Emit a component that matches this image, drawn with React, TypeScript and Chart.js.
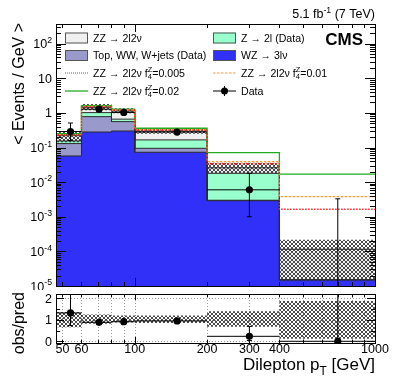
import React, { useEffect, useRef } from 'react';
import { Chart, registerables } from 'chart.js';
Chart.register(...registerables);

// ---------------- data ----------------
const binEdges = [47, 60, 80, 100, 200, 400, 1000];
const binCenters = [54, 71, 90, 150, 300, 700];
const wzValues = [0.057, 0.28, 0.30, 0.073, 0.0029, 0.000015];
const topWWValues = [0.073, 0.50, 0.26, 0.022, 0.0001, 0];
const zjetsValues = [0.025, 0.24, 0.10, 0.071, 0.015, 0];
const zzValues = [0.065, 0.43, 0.47, 0.13, 0.008, 0.0001];
const atgc005Values = [0.23, 1.5, 1.2, 0.32, 0.034, 0.00165];
const atgc01Values = [0.235, 1.55, 1.23, 0.33, 0.039, 0.0038];
const atgc02Values = [0.25, 1.62, 1.28, 0.36, 0.071, 0.017];
const dataValues = [0.29, 1.28, 1.03, 0.28, 0.006, 0];
const dataErrLow = [0.13, 0.12, 0.11, 0.03, 0.005, 0];
const dataErrHigh = [0.22, 0.13, 0.12, 0.03, 0.012, 0.0033];
const uncLow = [0.65, 0.82, 0.87, 0.85, 0.68, 0.12];
const uncHigh = [1.36, 1.25, 1.2, 1.2, 1.4, 1.88];
const xTickLabels = [50, 60, 100, 200, 300, 400, 1000];
const yExponents = [-5, -4, -3, -2, -1, 0, 1, 2];
const ratioTickLabels = [0, 1, 2];

const FONT = "'Liberation Sans', Arial, Helvetica, sans-serif";
const COL_ZZ = '#f0f0f0';
const COL_TOP = '#9999cc';
const COL_Z = '#99ffcc';
const COL_WZ = '#3030f8';
const COL_RED = '#ff2020';
const COL_ORANGE = '#ff9933';
const COL_GREEN = '#22aa22';

type Part = { t: string; k?: 'sup' | 'sub' | 'ss'; t2?: string };

function measureParts(ctx: CanvasRenderingContext2D, parts: Part[], size: number) {
  let w = 0;
  for (const p of parts) {
    if (p.k) {
      ctx.font = `${size * 0.7}px ${FONT}`;
      w += p.k === 'ss' ? Math.max(ctx.measureText(p.t).width, ctx.measureText(p.t2 || '').width) : ctx.measureText(p.t).width;
    } else {
      ctx.font = `${size}px ${FONT}`;
      w += ctx.measureText(p.t).width;
    }
  }
  return w;
}

function drawParts(ctx: CanvasRenderingContext2D, parts: Part[], x: number, y: number, size: number, align: 'left' | 'right' | 'center' = 'left', weight = '') {
  const w = measureParts(ctx, parts, size);
  let cx = align === 'right' ? x - w : align === 'center' ? x - w / 2 : x;
  ctx.textAlign = 'left';
  ctx.textBaseline = 'alphabetic';
  for (const p of parts) {
    if (p.k) {
      ctx.font = `${weight}${size * 0.7}px ${FONT}`;
      if (p.k === 'ss') {
        ctx.fillText(p.t, cx, y - size * 0.42);
        ctx.fillText(p.t2 || '', cx, y + size * 0.22);
        cx += Math.max(ctx.measureText(p.t).width, ctx.measureText(p.t2 || '').width);
      } else if (p.k === 'sup') {
        ctx.fillText(p.t, cx, y - size * 0.42);
        cx += ctx.measureText(p.t).width;
      } else {
        ctx.fillText(p.t, cx, y + size * 0.3);
        cx += ctx.measureText(p.t).width;
      }
    } else {
      ctx.font = `${weight}${size}px ${FONT}`;
      ctx.fillText(p.t, cx, y);
      cx += ctx.measureText(p.t).width;
    }
  }
}

function stepPoints(values: number[]) {
  const pts: { x: number; y: number }[] = [];
  values.forEach((v, i) => {
    pts.push({ x: binEdges[i], y: v });
    pts.push({ x: binEdges[i + 1], y: v });
  });
  return pts;
}

function line(ctx: CanvasRenderingContext2D, x1: number, y1: number, x2: number, y2: number) {
  ctx.beginPath();
  ctx.moveTo(x1, y1);
  ctx.lineTo(x2, y2);
  ctx.stroke();
}

function drawLogXTicks(ctx: CanvasRenderingContext2D, xs: any, area: any, majorLen: number, minorLen: number) {
  for (let d = 10; d <= 1000; d *= 10) {
    for (let m = 1; m <= 9; m++) {
      const v = m * d;
      if (v < xs.min || v > xs.max) continue;
      const px = Math.round(xs.getPixelForValue(v)) + 0.5;
      const len = m === 1 ? majorLen : minorLen;
      line(ctx, px, area.bottom, px, area.bottom - len);
      line(ctx, px, area.top, px, area.top + len);
    }
  }
}

function makeHatch(ctx: CanvasRenderingContext2D) {
  const c = document.createElement('canvas');
  c.width = 4;
  c.height = 4;
  const g = c.getContext('2d') as CanvasRenderingContext2D;
  g.fillStyle = 'rgba(45,45,45,0.85)';
  for (let i = 0; i < 4; i++) {
    g.fillRect(i, i, 1, 1);
    g.fillRect(i, 3 - i, 1, 1);
  }
  return ctx.createPattern(c, 'repeat') as CanvasPattern;
}

export default function App() {
  const mainRef = useRef<HTMLCanvasElement>(null);
  const ratioRef = useRef<HTMLCanvasElement>(null);

  useEffect(() => {
    document.body.style.margin = '0';
    const mainCanvas = mainRef.current as HTMLCanvasElement;
    const ratioCanvas = ratioRef.current as HTMLCanvasElement;
    const hatch1 = makeHatch(mainCanvas.getContext('2d') as CanvasRenderingContext2D);
    const hatch2 = makeHatch(ratioCanvas.getContext('2d') as CanvasRenderingContext2D);

    const cumWZ = wzValues.slice();
    const cumTop = wzValues.map((v, i) => v + topWWValues[i]);
    const cumZ = cumTop.map((v, i) => v + zjetsValues[i]);
    const total = cumZ.map((v, i) => v + zzValues[i]);
    const bandHi = total.map((v, i) => v * uncHigh[i]);
    const bandLo = total.map((v, i) => v * uncLow[i]);
    const ratio = dataValues.map((v, i) => v / total[i]);
    const ratioLo = dataErrLow.map((v, i) => v / total[i]);
    const ratioHi = dataErrHigh.map((v, i) => v / total[i]);

    const stackDs = (vals: number[], bg: string, order: number) => ({
      type: 'line' as const,
      data: stepPoints(vals),
      fill: 'start',
      backgroundColor: bg,
      borderColor: '#2a2a2a',
      borderWidth: 1,
      pointRadius: 0,
      order,
    });
    const sigDs = (vals: number[], color: string, dash: number[], width: number, order: number) => ({
      type: 'line' as const,
      data: [{ x: binEdges[0], y: 1e-7 }, ...stepPoints(vals)],
      fill: false,
      borderColor: color,
      borderDash: dash,
      borderWidth: width,
      pointRadius: 0,
      order,
    });

    const errorBars = (chart: any, vals: number[], lo: number[], hi: number[], isLog: boolean) => {
      const ctx = chart.ctx as CanvasRenderingContext2D;
      const xs = chart.scales.x;
      const ys = chart.scales.y;
      const a = chart.chartArea;
      ctx.save();
      ctx.beginPath();
      ctx.rect(a.left, a.top, a.right - a.left, a.bottom - a.top);
      ctx.clip();
      ctx.strokeStyle = '#000';
      ctx.lineWidth = 1;
      vals.forEach((v, i) => {
        const px = xs.getPixelForValue(binCenters[i]);
        const yv = isLog && v <= 0 ? a.bottom : ys.getPixelForValue(v);
        const lowV = v - lo[i];
        const yl = isLog && lowV <= 0 ? a.bottom : ys.getPixelForValue(lowV);
        const yh = ys.getPixelForValue(v + hi[i]);
        line(ctx, px, yl, px, yh);
        line(ctx, px - 2.5, yh, px + 2.5, yh);
        if (yl < a.bottom - 1) line(ctx, px - 2.5, yl, px + 2.5, yl);
        if (!(isLog && v <= 0)) line(ctx, xs.getPixelForValue(binEdges[i]), yv, xs.getPixelForValue(binEdges[i + 1]), yv);
      });
      ctx.restore();
    };

    const mainDeco = {
      id: 'mainDeco',
      afterDatasetsDraw(chart: any) {
        const ctx = chart.ctx as CanvasRenderingContext2D;
        const a = chart.chartArea;
        const xs = chart.scales.x;
        const ys = chart.scales.y;
        errorBars(chart, dataValues, dataErrLow, dataErrHigh, true);
        ctx.save();
        ctx.strokeStyle = '#000';
        ctx.lineWidth = 1;
        ctx.strokeRect(Math.round(a.left) + 0.5, Math.round(a.top) + 0.5, Math.round(a.right - a.left), Math.round(a.bottom - a.top));
        drawLogXTicks(ctx, xs, a, 8, 4);
        ctx.fillStyle = '#000';
        yExponents.forEach((e) => {
          for (let m = 1; m <= 9; m++) {
            const v = m * Math.pow(10, e);
            if (v < ys.min * 0.999 || v > ys.max * 1.001) continue;
            const py = Math.round(ys.getPixelForValue(v)) + 0.5;
            const len = m === 1 ? 10 : 5;
            line(ctx, a.left, py, a.left + len, py);
            line(ctx, a.right, py, a.right - len, py);
          }
          const py = ys.getPixelForValue(Math.pow(10, e));
          const parts: Part[] = e === 0 ? [{ t: '1' }] : e === 1 ? [{ t: '10' }] : [{ t: '10' }, { t: String(e), k: 'sup' }];
          drawParts(ctx, parts, 52, py + 4.5, 12.5, 'right');
        });
        ctx.save();
        ctx.translate(24, 23);
        ctx.rotate(-Math.PI / 2);
        ctx.font = `16px ${FONT}`;
        ctx.textAlign = 'right';
        ctx.textBaseline = 'alphabetic';
        ctx.fillText('< Events / GeV >', 0, 0);
        ctx.restore();
        drawParts(ctx, [{ t: '5.1 fb' }, { t: '-1', k: 'sup' }, { t: ' (7 TeV)' }], 375, 18, 12.5, 'right');
        ctx.font = `bold 17px ${FONT}`;
        ctx.textAlign = 'right';
        ctx.fillText('CMS', 363, 45);
        // legend
        const fs = 10.6;
        const rows = [38, 55.5, 73, 91];
        const lx0 = 65, lx1 = 88, ltx = 93;
        const rx0 = 213, rx1 = 236, rtx = 241;
        const box = (x0: number, x1: number, yc: number, fill: string) => {
          ctx.fillStyle = fill;
          ctx.fillRect(x0, yc - 5.5, x1 - x0, 11);
          ctx.strokeStyle = '#555';
          ctx.lineWidth = 1;
          ctx.strokeRect(x0 + 0.5, yc - 5.5 + 0.5, x1 - x0 - 1, 10);
        };
        const sample = (x0: number, x1: number, yc: number, color: string, dash: number[], w: number) => {
          ctx.save();
          ctx.strokeStyle = color;
          ctx.lineWidth = w;
          ctx.setLineDash(dash);
          line(ctx, x0, yc, x1, yc);
          ctx.restore();
        };
        const f4 = (val: string): Part[] => [{ t: 'ZZ → 2l2ν f' }, { t: 'Z', t2: '4', k: 'ss' }, { t: '=' + val }];
        box(lx0, lx1, rows[0], COL_ZZ);
        box(lx0, lx1, rows[1], COL_TOP);
        sample(lx0, lx1, rows[2], COL_RED, [1, 1], 1);
        sample(lx0, lx1, rows[3], COL_GREEN, [], 1.3);
        box(rx0, rx1, rows[0], COL_Z);
        box(rx0, rx1, rows[1], COL_WZ);
        sample(rx0, rx1, rows[2], COL_ORANGE, [2.5, 1.5], 1);
        ctx.strokeStyle = '#000';
        ctx.lineWidth = 1;
        line(ctx, rx0, rows[3], rx1, rows[3]);
        line(ctx, (rx0 + rx1) / 2, rows[3] - 5, (rx0 + rx1) / 2, rows[3] + 5);
        ctx.fillStyle = '#000';
        ctx.beginPath();
        ctx.arc((rx0 + rx1) / 2, rows[3], 3.5, 0, Math.PI * 2);
        ctx.fill();
        const bl = (r: number) => rows[r] + fs * 0.36;
        ctx.fillStyle = '#000';
        drawParts(ctx, [{ t: 'ZZ → 2l2ν' }], ltx, bl(0), fs);
        drawParts(ctx, [{ t: 'Top, WW, W+jets (Data)' }], ltx, bl(1), fs);
        drawParts(ctx, f4('0.005'), ltx, bl(2), fs);
        drawParts(ctx, f4('0.02'), ltx, bl(3), fs);
        drawParts(ctx, [{ t: 'Z → 2l (Data)' }], rtx, bl(0), fs);
        drawParts(ctx, [{ t: 'WZ → 3lν' }], rtx, bl(1), fs);
        drawParts(ctx, f4('0.01'), rtx, bl(2), fs);
        drawParts(ctx, [{ t: 'Data' }], rtx, bl(3), fs);
        ctx.restore();
      },
    };

    const c1 = new Chart(mainCanvas, {
      type: 'line',
      data: {
        datasets: [
          stackDs(total, COL_ZZ, 10),
          stackDs(cumZ, COL_Z, 9),
          stackDs(cumTop, COL_TOP, 8),
          stackDs(cumWZ, COL_WZ, 7),
          { type: 'line', data: stepPoints(bandHi), fill: '+1', backgroundColor: hatch1, borderColor: 'rgba(0,0,0,0)', borderWidth: 0, pointRadius: 0, order: 6 },
          { type: 'line', data: stepPoints(bandLo), fill: false, borderColor: 'rgba(0,0,0,0)', borderWidth: 0, pointRadius: 0, order: 6 },
          sigDs(atgc02Values, COL_GREEN, [], 1.3, 4),
          sigDs(atgc01Values, COL_ORANGE, [2.5, 1.5], 1.2, 3),
          sigDs(atgc005Values, COL_RED, [1.5, 1.5], 1.3, 2),
          {
            type: 'line',
            data: binCenters.map((x, i) => ({ x, y: dataValues[i] > 0 ? dataValues[i] : null })),
            showLine: false,
            pointRadius: 3.6,
            pointBackgroundColor: '#000',
            pointBorderColor: '#000',
            pointBorderWidth: 0,
            order: 0,
          },
        ] as any,
      },
      options: {
        animation: false,
        responsive: false,
        events: [],
        layout: { padding: { left: 56, right: 24, top: 24, bottom: 4 } },
        scales: {
          x: { type: 'logarithmic', min: binEdges[0], max: binEdges[binEdges.length - 1], display: false },
          y: { type: 'logarithmic', min: 1e-5, max: 370, display: false },
        },
        plugins: { legend: { display: false }, tooltip: { enabled: false } },
      } as any,
      plugins: [mainDeco],
    });

    const ratioDeco = {
      id: 'ratioDeco',
      beforeDatasetsDraw(chart: any) {
        const ctx = chart.ctx as CanvasRenderingContext2D;
        const a = chart.chartArea;
        const xs = chart.scales.x;
        const ys = chart.scales.y;
        ctx.save();
        ctx.strokeStyle = '#999';
        ctx.lineWidth = 1;
        ctx.setLineDash([1, 2]);
        for (let d = 10; d <= 1000; d *= 10) {
          for (let m = 1; m <= 9; m++) {
            const v = m * d;
            if (v <= xs.min || v >= xs.max) continue;
            const px = Math.round(xs.getPixelForValue(v)) + 0.5;
            line(ctx, px, a.top, px, a.bottom);
          }
        }
        ratioTickLabels.forEach((r) => {
          const py = Math.round(ys.getPixelForValue(r)) + 0.5;
          line(ctx, a.left, py, a.right, py);
        });
        ctx.restore();
      },
      afterDatasetsDraw(chart: any) {
        const ctx = chart.ctx as CanvasRenderingContext2D;
        const a = chart.chartArea;
        const xs = chart.scales.x;
        const ys = chart.scales.y;
        errorBars(chart, ratio, ratioLo, ratioHi, false);
        ctx.save();
        ctx.strokeStyle = '#000';
        ctx.lineWidth = 1;
        ctx.strokeRect(Math.round(a.left) + 0.5, Math.round(a.top) + 0.5, Math.round(a.right - a.left), Math.round(a.bottom - a.top));
        drawLogXTicks(ctx, xs, a, 6, 3);
        ctx.fillStyle = '#000';
        for (let r = 0; r <= 2; r += 0.5) {
          const py = Math.round(ys.getPixelForValue(r)) + 0.5;
          const len = Number.isInteger(r) ? 8 : 4;
          line(ctx, a.left, py, a.left + len, py);
          line(ctx, a.right, py, a.right - len, py);
        }
        ratioTickLabels.forEach((r) => {
          drawParts(ctx, [{ t: String(r) }], 52, ys.getPixelForValue(r) + 4.5, 12.5, 'right');
        });
        xTickLabels.forEach((v) => {
          drawParts(ctx, [{ t: String(v) }], xs.getPixelForValue(v), 63, 12.5, 'center');
        });
        drawParts(ctx, [{ t: 'Dilepton p' }, { t: 'T', k: 'sub' }, { t: ' [GeV]' }], 375, 80, 17, 'right');
        ctx.save();
        ctx.translate(24, 2);
        ctx.rotate(-Math.PI / 2);
        ctx.font = `16px ${FONT}`;
        ctx.textAlign = 'right';
        ctx.textBaseline = 'alphabetic';
        ctx.fillText('obs/pred', 0, 0);
        ctx.restore();
        ctx.restore();
      },
    };

    const c2 = new Chart(ratioCanvas, {
      type: 'line',
      data: {
        datasets: [
          { type: 'line', data: stepPoints(uncHigh), fill: '+1', backgroundColor: hatch2, borderColor: 'rgba(0,0,0,0)', borderWidth: 0, pointRadius: 0, order: 6 },
          { type: 'line', data: stepPoints(uncLow), fill: false, borderColor: 'rgba(0,0,0,0)', borderWidth: 0, pointRadius: 0, order: 6 },
          {
            type: 'line',
            data: binCenters.map((x, i) => ({ x, y: ratio[i] })),
            showLine: false,
            pointRadius: 3.6,
            pointBackgroundColor: '#000',
            pointBorderColor: '#000',
            pointBorderWidth: 0,
            order: 0,
          },
        ] as any,
      },
      options: {
        animation: false,
        responsive: false,
        events: [],
        layout: { padding: { left: 56, right: 24, top: 2, bottom: 41 } },
        scales: {
          x: { type: 'logarithmic', min: binEdges[0], max: binEdges[binEdges.length - 1], display: false },
          y: { type: 'linear', min: -0.08, max: 2.2, display: false },
        },
        plugins: { legend: { display: false }, tooltip: { enabled: false } },
      } as any,
      plugins: [ratioDeco],
    });

    return () => {
      c1.destroy();
      c2.destroy();
    };
  }, []);

  return (
    <div style={{ position: 'relative', width: 399, height: 384, background: '#fff' }}>
      <canvas ref={mainRef} width={399} height={290} style={{ position: 'absolute', left: 0, top: 0 }} />
      <canvas ref={ratioRef} width={399} height={94} style={{ position: 'absolute', left: 0, top: 290 }} />
    </div>
  );
}
